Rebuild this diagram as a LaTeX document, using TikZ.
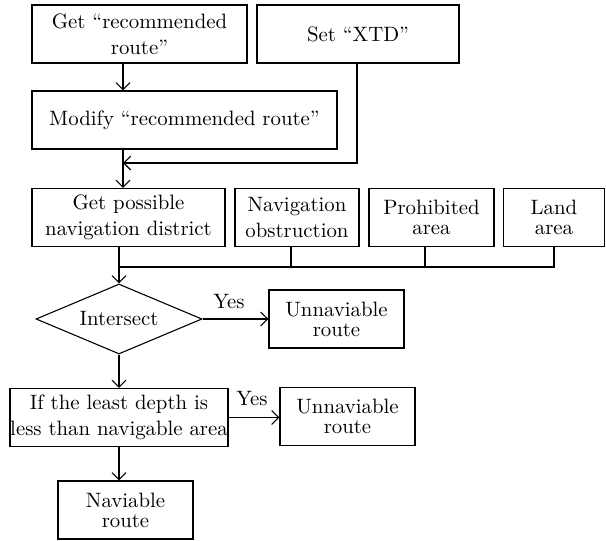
\documentclass[tikz,border=0pt]{standalone}
\usetikzlibrary{shapes.geometric,arrows.meta}
\begin{document}
\begin{tikzpicture}[x=0.5pt,y=-0.5pt,
  font=\fontsize{10.4}{13}\selectfont,
  line width=0.55pt,
  box/.style={draw,rectangle,inner sep=0pt,align=center,minimum height=29pt},
  dia/.style={draw,diamond,inner sep=0pt,shape aspect=2.4,minimum width=83pt,minimum height=35pt},
  arr/.style={-{Straight Barb[length=3.5pt,width=7pt]}},
  lbl/.style={inner sep=0pt}]
\useasboundingbox (0,0) rectangle (606,541);
\node[box,minimum width=107.5pt] (b1) at (139.5,34) {Get ``recommended\\route''};
\node[box,minimum width=101pt] (xtd) at (358,34) {Set ``XTD''};
\node[box,minimum width=152.5pt] (mod) at (184.5,120) {Modify ``recommended route''};
\node[box,minimum width=96.5pt] (gpd) at (128.5,217.5) {Get possible\\navigation district};
\node[box,minimum width=62pt] (nav) at (297,217.5) {Navigation\\obstruction};
\node[box,minimum width=62.5pt] (pro) at (431.5,217.5) {Prohibited\\[-3pt]area};
\node[box,minimum width=50.5pt] (land) at (554,217.5) {Land\\[-3pt]area};
\node[dia] (int) at (119,319) {Intersect};
\node[box,minimum width=67.5pt] (un1) at (336.5,319) {Unnaviable\\[-3pt]route};
\node[box,minimum width=109pt] (ifb) at (119,417.5) {If the least depth is\\less than navigable area};
\node[box,minimum width=67.5pt] (un2) at (347.5,416.5) {Unnaviable\\[-3pt]route};
\node[box,minimum width=67.5pt] (nvb) at (125.5,510) {Naviable\\[-3pt]route};
\node[lbl] (y1) at (229,302) {Yes};
\node[lbl] (y2) at (252,399) {Yes};
\coordinate (sp) at (123,0);
\coordinate (j1) at (123,163);
\coordinate (xj) at (357,0);
\coordinate (bus) at (119,267);
\draw[arr] (b1.south -| sp) -- (mod.north -| sp);
\draw[arr] (mod.south -| sp) -- (gpd.north -| sp);
\draw[arr] (xtd.south -| xj) |- (j1);
\draw (gpd.south -| bus) -- (bus) -- (bus -| land.south) -- (land.south);
\draw (nav.south) ++(-6,0) coordinate (n1) -- (n1 |- bus);
\draw (pro.south) ++(-6.5,0) coordinate (p1) -- (p1 |- bus);
\draw[arr] (bus) -- (int.north);
\draw[arr] (int.east) -- (un1.west);
\draw[arr] (int.south) -- (ifb.north -| int.south);
\draw[arr] (ifb.east) -- (un2.west |- ifb.east);
\draw[arr] (ifb.south) -- (ifb.south |- nvb.north);
\end{tikzpicture}
\end{document}
